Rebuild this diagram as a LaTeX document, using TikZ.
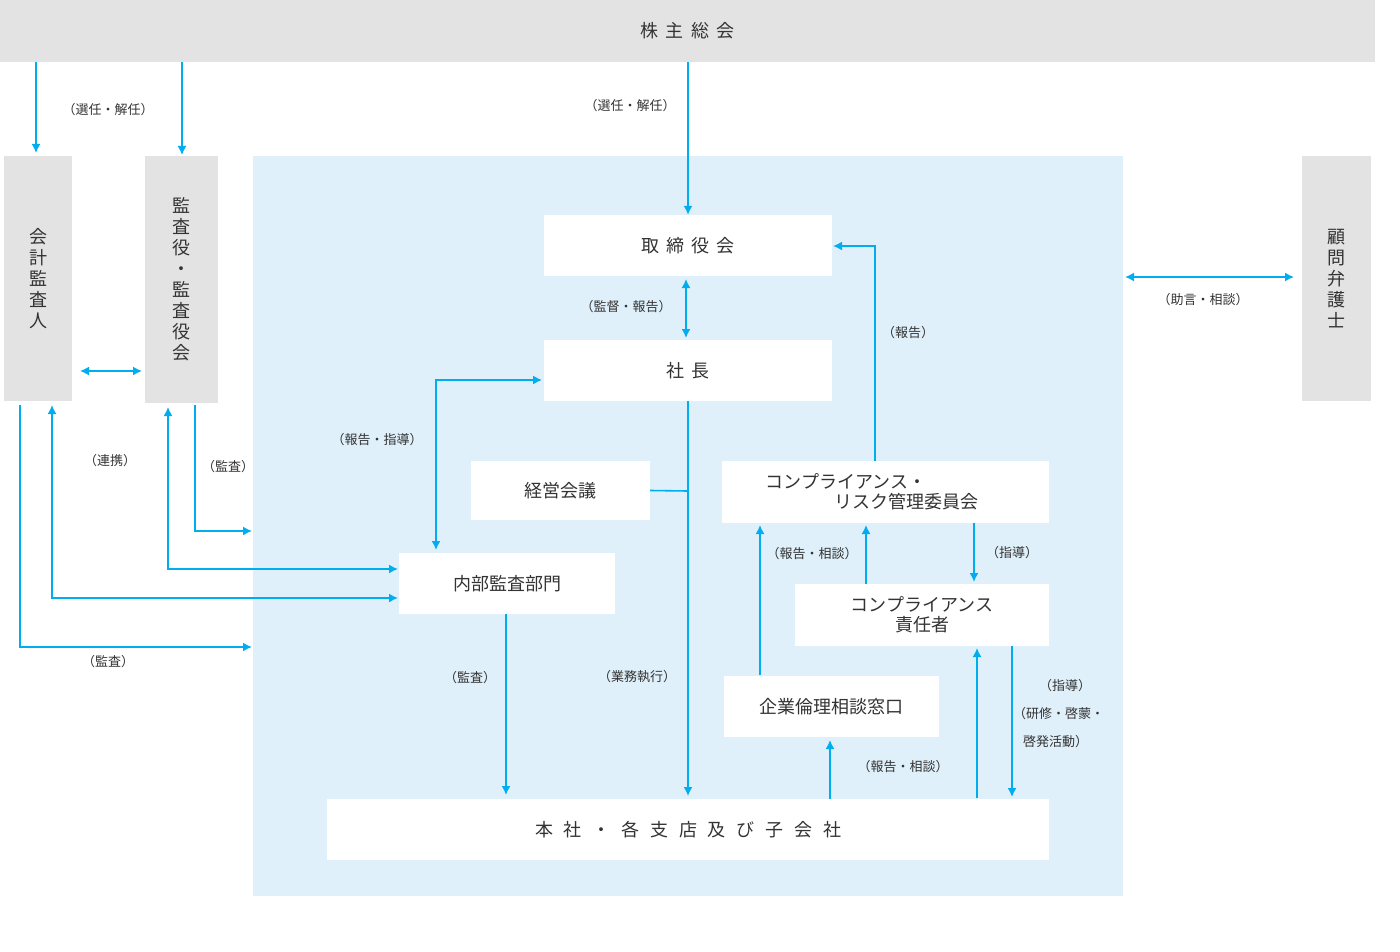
\documentclass[tikz,border=0pt]{standalone}
\usepackage{fontspec}
\setmainfont{Noto Sans CJK JP}
\usetikzlibrary{arrows.meta}
\definecolor{arr}{HTML}{00AEEF}
\definecolor{gbox}{HTML}{E3E3E3}
\definecolor{lblue}{HTML}{DFF0FA}
\definecolor{txt}{HTML}{333333}
\begin{document}
\begin{tikzpicture}[x=1pt,y=-1pt,
  box/.style={fill=white,draw=none,inner sep=0pt,text=txt,font=\fontsize{18}{20}\selectfont,align=center},
  gray/.style={fill=gbox,draw=none,inner sep=0pt,text=txt,font=\fontsize{18}{21}\selectfont,align=center},
  lab/.style={text=txt,font=\fontsize{13}{16}\selectfont,inner sep=1pt,align=left},
  ar/.style={draw=arr,line width=1.6pt,-{Latex[length=9pt,width=9pt]}},
  dar/.style={draw=arr,line width=1.6pt,{Latex[length=9pt,width=9pt]}-{Latex[length=9pt,width=9pt]}},
  ln/.style={draw=arr,line width=1.6pt}]
\useasboundingbox (0,0) rectangle (1400,952);
\fill[white] (0,0) rectangle (1400,952);
\fill[lblue] (253,156) rectangle (1123,896);
\node[gray,minimum width=1375pt,minimum height=62pt] (kabu) at (687.5,31) {株\hspace{0.4em}主\hspace{0.4em}総\hspace{0.4em}会};
\node[gray,minimum width=68pt,minimum height=245pt] (kaikei) at (38,278.5) {会\\計\\監\\査\\人};
\node[gray,minimum width=73pt,minimum height=247pt] (kansa) at (181.5,279.5) {監\\査\\役\\・\\監\\査\\役\\会};
\node[gray,minimum width=69pt,minimum height=245pt] (komon) at (1336.5,278.5) {顧\\問\\弁\\護\\士};
\node[box,minimum width=288pt,minimum height=61pt] (tori) at (688,245.5) {取\hspace{0.4em}締\hspace{0.4em}役\hspace{0.4em}会};
\node[box,minimum width=288pt,minimum height=61pt] (sha) at (688,370.5) {社\hspace{0.4em}長};
\node[box,minimum width=179pt,minimum height=59pt] (keiei) at (560.5,490.5) {経営会議};
\node[box,minimum width=327pt,minimum height=62pt] (comp) at (885.5,492) {};
\node[text=txt,font=\fontsize{18}{20}\selectfont,align=left] at (872,492) {コンプライアンス・\\\hspace*{3.8em}リスク管理委員会};
\node[box,minimum width=216pt,minimum height=61pt] (naibu) at (507,583.5) {内部監査部門};
\node[box,minimum width=254pt,minimum height=62pt] (seki) at (922,615) {コンプライアンス\\責任者};
\node[box,minimum width=215pt,minimum height=61pt] (kigyo) at (831.5,706.5) {企業倫理相談窓口};
\node[box,minimum width=722pt,minimum height=61pt] (honsha) at (688,829.5) {本\hspace{0.6em}社\hspace{0.6em}・\hspace{0.6em}各\hspace{0.6em}支\hspace{0.6em}店\hspace{0.6em}及\hspace{0.6em}び\hspace{0.6em}子\hspace{0.6em}会\hspace{0.6em}社};
% arrows
\draw[ar] (36,62) -- (36,153);
\draw[ar] (182,62) -- (182,155);
\draw[ar] (688,62) -- (tori.north);
\node[lab] at (108,110) {（選任・解任）};
\node[lab] at (630,106) {（選任・解任）};
\draw[dar] (686,279) -- (686,338);
\node[lab] at (626,307) {（監督・報告）};
\draw[ar] (875,461) -- (875,246) -- (833,246);
\node[lab] at (908,333) {（報告）};
\draw[dar] (1125,277) -- (1294,277);
\node[lab] at (1203,300) {（助言・相談）};
\draw[dar] (80,371) -- (142,371);
\draw[dar] (542,380) -- (436,380) -- (436,550);
\node[lab] at (377,440) {（報告・指導）};
\draw[ar] (688,401) -- (688,796);
\draw[ln] (keiei.east) -- (688,491);
\node[lab] at (637,677) {（業務執行）};
\draw[ar] (195,405) -- (195,531) -- (252,531);
\node[lab] at (228,467) {（監査）};
\draw[dar] (168,407) -- (168,569) -- (398,569);
\draw[dar] (52,405) -- (52,598) -- (398,598);
\draw[ar] (20,405) -- (20,647) -- (252,647);
\node[lab] at (108,662) {（監査）};
\node[lab] at (110,461) {（連携）};
\draw[ar] (506,614) -- (506,795);
\node[lab] at (470,678) {（監査）};
\draw[ar] (760,675) -- (760,525);
\draw[ar] (866,584) -- (866,525);
\node[lab] at (812,554) {（報告・相談）};
\draw[ar] (974,523) -- (974,582);
\node[lab] at (1012,553) {（指導）};
\draw[ar] (830,799) -- (830,740);
\node[lab] at (903,767) {（報告・相談）};
\draw[ar] (977,798) -- (977,648);
\draw[ar] (1012,646) -- (1012,797);
\node[lab] at (1065,686) {（指導）};
\node[lab,anchor=west] at (1012,714) {（研修・啓蒙・};
\node[lab,anchor=west] at (1022,742) {啓発活動）};
\end{tikzpicture}
\end{document}
